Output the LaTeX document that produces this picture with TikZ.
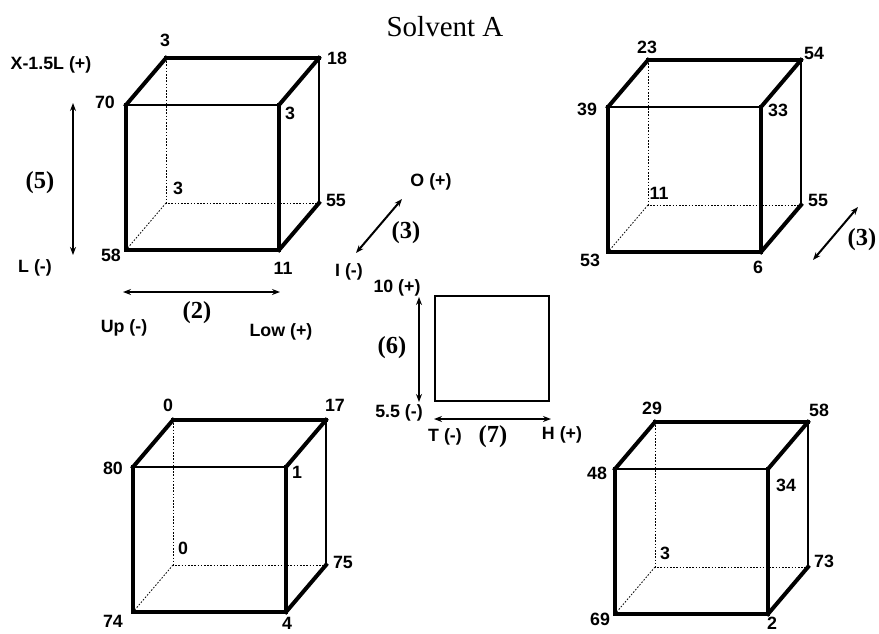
\documentclass[tikz,border=0pt]{standalone}
\usepackage{fontspec}
\setmainfont{Liberation Serif}
\setsansfont{Liberation Sans}
\usetikzlibrary{arrows.meta}
\tikzset{
  lbl/.style={font=\sffamily\bfseries\fontsize{17.8}{18}\selectfont, inner sep=0pt, anchor=center},
  pnum/.style={font=\bfseries\fontsize{24.5}{25}\selectfont, inner sep=0pt, anchor=center},
  hidden/.style={line width=0.8pt, dash pattern=on 1.6pt off 1.6pt},
  edgeA/.style={line width=3.2pt, line cap=rect},
  edgeB/.style={line width=2.3pt, line cap=rect},
  edgeC/.style={line width=4pt, line cap=rect},
  dblarrow/.style={line width=2pt, {Stealth[length=8pt,width=6pt]}-{Stealth[length=8pt,width=6pt]}},
}
\newcommand{\mycube}[3]{%
  \coordinate (#1ftl) at (#2,#3);
  \coordinate (#1ftr) at (#2+153,#3);
  \coordinate (#1fbl) at (#2,#3+145);
  \coordinate (#1fbr) at (#2+153,#3+145);
  \coordinate (#1btl) at (#2+40,#3-47);
  \coordinate (#1btr) at (#2+193,#3-47);
  \coordinate (#1bbl) at (#2+40,#3+98);
  \coordinate (#1bbr) at (#2+193,#3+98);
  \draw[hidden] (#1btl) -- (#1bbl) -- (#1bbr);
  \draw[hidden] (#1bbl) -- (#1fbl);
  \draw[edgeA] (#1ftl) -- (#1fbl);
  \draw[edgeA] (#1fbl) -- (#1fbr);
  \draw[edgeA] (#1fbr) -- (#1ftr);
  \draw[edgeB] (#1ftl) -- (#1ftr);
  \draw[edgeC] (#1ftl) -- (#1btl);
  \draw[edgeA] (#1btl) -- (#1btr);
  \draw[edgeC] (#1btr) -- (#1ftr);
  \draw[edgeB] (#1btr) -- (#1bbr);
  \draw[edgeC] (#1bbr) -- (#1fbr);
}
\begin{document}
\begin{tikzpicture}[x=1pt,y=-1pt]
\useasboundingbox (0,0) rectangle (879,633);
\node[font=\fontsize{29}{30}\selectfont, inner sep=0pt] (title) at (445,27) {Solvent A};

% cube 1 (top left)
\mycube{a}{126}{105}
\node[lbl] (a1) at (165,40) {3};
\node[lbl] (a2) at (337,58) {18};
\node[lbl] (a3) at (105,102) {70};
\node[lbl] (a4) at (290,113) {3};
\node[lbl] (a5) at (178,188) {3};
\node[lbl] (a6) at (336,200) {55};
\node[lbl] (a7) at (111,255) {58};
\node[lbl] (a8) at (283,268) {11};

% cube 2 (top right)
\mycube{b}{608}{107}
\node[lbl] (b1) at (647,47) {23};
\node[lbl] (b2) at (814,53) {54};
\node[lbl] (b3) at (587,109) {39};
\node[lbl] (b4) at (778,110) {33};
\node[lbl] (b5) at (659,193) {11};
\node[lbl] (b6) at (818,200) {55};
\node[lbl] (b7) at (590,260) {53};
\node[lbl] (b8) at (758,267) {6};

% cube 3 (bottom left)
\mycube{c}{133}{467}
\node[lbl] (c1) at (168,405) {0};
\node[lbl] (c2) at (335,405) {17};
\node[lbl] (c3) at (113,468) {80};
\node[lbl] (c4) at (297,472) {1};
\node[lbl] (c5) at (183,548) {0};
\node[lbl] (c6) at (343,562) {75};
\node[lbl] (c7) at (113,621) {74};
\node[lbl] (c8) at (287,623) {4};

% cube 4 (bottom right)
\mycube{d}{615}{469}
\node[lbl] (d1) at (652,408) {29};
\node[lbl] (d2) at (819,410) {58};
\node[lbl] (d3) at (597,473) {48};
\node[lbl] (d4) at (786,485) {34};
\node[lbl] (d5) at (665,553) {3};
\node[lbl] (d6) at (824,561) {73};
\node[lbl] (d7) at (600,619) {69};
\node[lbl] (d8) at (772,623) {2};

% axis legends, top left
\node[lbl] (xl) at (51,65) {X-1.5L (+)};
\node[pnum] (p5) at (40,183) {(5)};
\node[lbl] (ll) at (35,268) {L (-)};
\coordinate (v1t) at (73,103);
\coordinate (v1b) at (73,255);
\draw[dblarrow] (v1t) -- (v1b);
\coordinate (h1l) at (123,292);
\coordinate (h1r) at (280,292);
\draw[dblarrow] (h1l) -- (h1r);
\node[pnum] (p2) at (197,313) {(2)};
\node[lbl] (up) at (124,328) {Up (-)};
\node[lbl] (low) at (281,332) {Low (+)};

% centre legends
\node[lbl] (oo) at (431,182) {O (+)};
\coordinate (d1a) at (356,253);
\coordinate (d1b) at (402,199);
\draw[dblarrow] (d1a) -- (d1b);
\node[pnum] (p3) at (406,233) {(3)};
\node[lbl] (ii) at (349,272) {I (-)};
\node[lbl] (ten) at (397,288) {10 (+)};
\coordinate (v2t) at (419,297);
\coordinate (v2b) at (419,402);
\draw[dblarrow] (v2t) -- (v2b);
\node[pnum] (p6) at (392,348) {(6)};
\node[draw, line width=1.5pt, minimum width=114pt, minimum height=105pt, inner sep=0pt] (sq) at (492,348.5) {};
\node[lbl] (five) at (399,413) {5.5 (-)};
\coordinate (h2l) at (434,419);
\coordinate (h2r) at (551,419);
\draw[dblarrow] (h2l) -- (h2r);
\node[lbl] (tt) at (445,437) {T (-)};
\node[pnum] (p7) at (493,437) {(7)};
\node[lbl] (hh) at (562,435) {H (+)};

% right arrow
\coordinate (d2a) at (813,260);
\coordinate (d2b) at (858,207);
\draw[dblarrow] (d2a) -- (d2b);
\node[pnum] (p3b) at (862,240) {(3)};
\end{tikzpicture}
\end{document}
